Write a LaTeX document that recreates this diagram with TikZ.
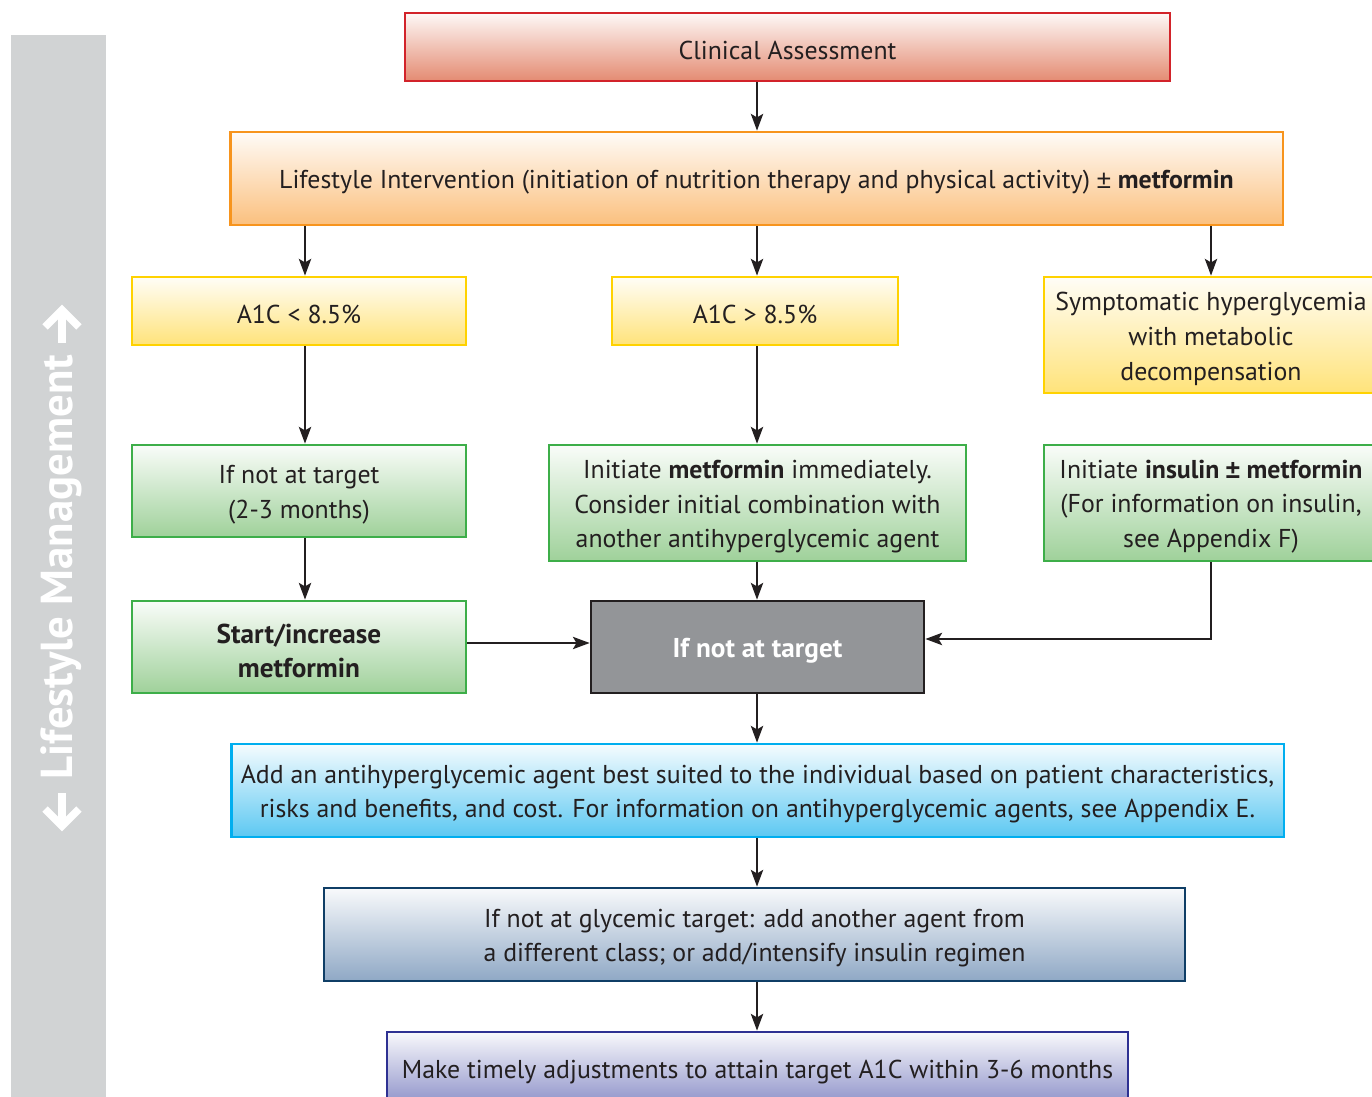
\documentclass[tikz,border=0pt]{standalone}
\usepackage{fontspec}
\setmainfont{PT Sans}
\newfontfamily\pmfont{Liberation Sans}
\newcommand\pmsign{{\pmfont ±}}
\newcommand\lift{\rule{0pt}{14.6pt}}
\newcommand\liftb{\rule{0pt}{15.6pt}}
\usetikzlibrary{arrows.meta,calc}
\definecolor{txt}{HTML}{231F20}
\definecolor{redB}{HTML}{D2232A}\definecolor{redF}{HTML}{E48B72}
\definecolor{oraB}{HTML}{F7941D}\definecolor{oraF}{HTML}{FBC07E}
\definecolor{yelB}{HTML}{FFD200}\definecolor{yelF}{HTML}{FFE37A}
\definecolor{grnB}{HTML}{3DAE49}\definecolor{grnF}{HTML}{9FD19A}
\definecolor{gryF}{HTML}{939598}
\definecolor{cyaB}{HTML}{00AEEF}\definecolor{cyaF}{HTML}{5CC8F2}
\definecolor{navB}{HTML}{0F3E66}\definecolor{navF}{HTML}{8FA8C5}
\definecolor{indB}{HTML}{2E3192}\definecolor{indF}{HTML}{8E92C9}
\definecolor{sideG}{HTML}{D1D3D4}
\begin{document}
\begin{tikzpicture}[x=0.02cm,y=-0.02cm,
  box/.style={line width=1.6pt, inner sep=0pt, align=center, text=txt,
    font=\fontsize{14.7}{19.8}\selectfont},
  boldtxt/.style={font=\fontsize{15.5}{20}\bfseries\selectfont},
  fbox/.style n args={2}{box, draw=#1, top color=#2!6!white, bottom color=#2},
  arr/.style={line width=1.1pt, draw=txt, -{Stealth[length=9.5pt,width=7pt,inset=2pt]}},
  sidearrow/.style={white, line width=4.4pt, line join=miter}]
\useasboundingbox (0,0) rectangle (1372,1097);
\clip (0,0) rectangle (1372,1097);
\fill[white] (0,0) rectangle (1372,1097);
% side bar
\node[fill=sideG, inner sep=0pt, minimum width=1.9cm, minimum height=21.24cm, anchor=north west] (side) at (11,35) {};
\node[rotate=90, text=white, font=\fontsize{25.5}{30}\bfseries\selectfont] (sidelbl) at (61,567)
  {Lifestyle Management};
\draw[sidearrow] (62,343) -- (62,310);
\draw[sidearrow] (45,327) -- (62,310) -- (79,327);
\draw[sidearrow] (62,793) -- (62,826);
\draw[sidearrow] (45,809) -- (62,826) -- (79,809);
% boxes
\node[fbox={redB}{redF}, minimum width=15.3cm, minimum height=1.36cm] (CA) at (787.5,47) {\lift Clinical Assessment};
\node[fbox={oraB}{oraF}, minimum width=21.06cm, minimum height=1.86cm] (LI) at (756.5,178.5)
  {\lift Lifestyle Intervention (initiation of nutrition therapy and physical activity) \pmsign{} \textbf{metformin}};
\node[fbox={yelB}{yelF}, minimum width=6.68cm, minimum height=1.36cm] (A1) at (299,311) {\lift A1C < 8.5\%};
\node[fbox={yelB}{yelF}, minimum width=5.72cm, minimum height=1.36cm] (A2) at (755,311) {\lift A1C > 8.5\%};
\node[fbox={yelB}{yelF}, minimum width=6.68cm, minimum height=2.32cm] (SY) at (1211,335)
  {\lift Symptomatic hyperglycemia\\ with metabolic\\ decompensation};
\node[fbox={grnB}{grnF}, minimum width=6.68cm, minimum height=1.84cm] (NT) at (299,491)
  {\lift If not at target\\ (2-3 months)};
\node[fbox={grnB}{grnF}, minimum width=8.34cm, minimum height=2.32cm] (IM) at (757.5,503)
  {\lift Initiate \textbf{metformin} immediately.\\ Consider initial combination with\\ another antihyperglycemic agent};
\node[fbox={grnB}{grnF}, minimum width=6.68cm, minimum height=2.32cm] (II) at (1211,503)
  {\lift Initiate \textbf{insulin \pmsign{} metformin}\\ (For information on insulin,\\ see Appendix F)};
\node[fbox={grnB}{grnF}, minimum width=6.68cm, minimum height=1.84cm, boldtxt] (SM) at (299,647)
  {\liftb Start/increase\\[-0.5pt] metformin};
\node[box, draw=txt, fill=gryF, text=white, minimum width=6.66cm, minimum height=1.84cm,
  boldtxt] (GT) at (757.5,647) {\liftb If not at target};
\node[fbox={cyaB}{cyaF}, minimum width=21.06cm, minimum height=1.86cm] (AD) at (757.5,790.5)
  {\lift Add an antihyperglycemic agent best suited to the individual based on patient characteristics,\\
   risks and benefits, and cost. For information on antihyperglycemic agents, see Appendix E.};
\node[fbox={navB}{navF}, minimum width=17.22cm, minimum height=1.86cm] (GL) at (754.5,934.5)
  {\lift If not at glycemic target: add another agent from\\ a different class; or add/intensify insulin regimen};
\node[fbox={indB}{indF}, minimum width=14.82cm, minimum height=1.46cm] (MT) at (757.5,1068.5)
  {\lift Make timely adjustments to attain target A1C within 3-6 months};
% connectors
\draw[arr] (CA.south -| 757,0) -- (LI.north -| 757,0);
\draw[arr] (LI.south -| 305,0) -- (A1.north -| 305,0);
\draw[arr] (LI.south -| 757,0) -- (A2.north -| 757,0);
\draw[arr] (LI.south -| SY.north) -- (SY.north);
\draw[arr] (A1.south -| 305,0) -- (NT.north -| 305,0);
\draw[arr] (NT.south -| 305,0) -- (SM.north -| 305,0);
\draw[arr] (A2.south -| 757,0) -- (IM.north -| 757,0);
\draw[arr] (IM.south -| 757,0) -- (GT.north -| 757,0);
\draw[arr] (SM.east |- 0,643) -- (GT.west |- 0,643);
\draw[arr] (II.south) |- (GT.east |- 0,639);
\draw[arr] (GT.south -| 757,0) -- (AD.north -| 757,0);
\draw[arr] (AD.south -| 757,0) -- (GL.north -| 757,0);
\draw[arr] (GL.south -| 757,0) -- (MT.north -| 757,0);
\end{tikzpicture}
\end{document}
